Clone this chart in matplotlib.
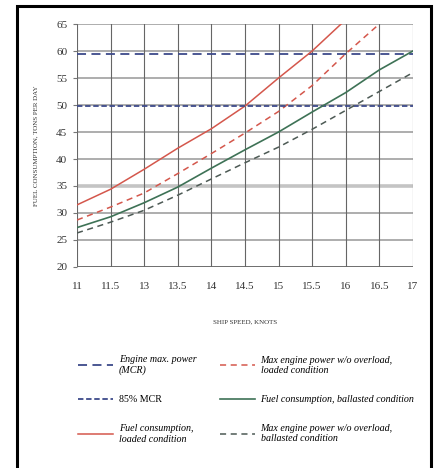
import matplotlib.pyplot as plt
from matplotlib.patches import Rectangle

# speed labels as printed on the chart (one per grid line)
speed_labels = ['11', '11.5', '13', '13.5', '14', '14.5', '15', '15.5', '16', '16.5', '17']
y_ticks = [20, 25, 30, 35, 40, 45, 50, 55, 60, 65]

mcr = 59.4
mcr_85 = 49.8

fuel_loaded = [31.5, 34.4, 38.1, 42.0, 45.6, 49.8, 55.0, 60.0, 65.8]
max_loaded = [28.7, 31.1, 33.7, 37.3, 41.0, 44.8, 48.8, 53.6, 59.5, 65.0]
fuel_ballast = [27.3, 29.3, 31.9, 34.8, 38.3, 41.7, 45.0, 48.7, 52.3, 56.5, 60.0]
max_ballast = [26.3, 28.3, 30.5, 33.3, 36.3, 39.3, 42.2, 45.5, 49.0, 52.5, 56.0]

plt.rcParams['font.family'] = ['Liberation Serif', 'DejaVu Serif']

fig = plt.figure(figsize=(4.36, 4.68), dpi=100)
fig.patch.set_facecolor('white')
ax = fig.add_axes([0.1766, 0.4295, 0.7704, 0.5192])

# outer black frame (runs past the bottom edge)
fig.patches.append(Rectangle((17 / 436, -0.05), (431 - 17) / 436, 1 - 6 / 468 + 0.05,
                             transform=fig.transFigure, fill=False, ec='black', lw=2.2))

n = len(speed_labels)
xs = list(range(n))

# grid
for y in y_ticks:
    if y == 35:
        ax.axhline(y, color='#c4c4c4', lw=2.6, zorder=1)
    elif y == 20:
        ax.axhline(y, color='#555555', lw=1.2, zorder=1)
    else:
        ax.axhline(y, color='#a0a0a0', lw=1.2, zorder=1)
for x in xs:
    ax.axvline(x, color='#666666', lw=0.8, zorder=1)

navy = '#3d4a8a'
red = '#d4574c'
green = '#3e7256'
grey = '#4d5a55'

ax.axhline(mcr, color=navy, lw=1.3, dashes=(5, 3), zorder=3, label='Engine max. power\n(MCR)')
ax.plot(xs[:len(fuel_loaded)], fuel_loaded, color=red, lw=1.1, zorder=3,
        label='Fuel consumption,\nloaded condition')
ax.plot(xs[:len(max_loaded)], max_loaded, color=red, lw=1.1, dashes=(4, 3), zorder=3,
        label='Max engine power w/o overload,\nloaded condition')
ax.axhline(mcr_85, color=navy, lw=1.3, dashes=(3, 1.5), zorder=3, label='85% MCR')
ax.plot(xs, fuel_ballast, color=green, lw=1.2, zorder=3,
        label='Fuel consumption, ballasted condition')
ax.plot(xs, max_ballast, color=grey, lw=1.1, dashes=(4, 3), zorder=3,
        label='Max engine power w/o overload,\nballasted condition')

ax.set_xlim(0, n - 1)
ax.set_ylim(20, 65)
ax.set_xticks(xs)
ax.set_xticklabels(speed_labels, fontsize=8, color='#333333')
ax.set_yticks(y_ticks)
ax.set_yticklabels([str(v) for v in y_ticks], fontsize=8, color='#333333')
ax.tick_params(axis='both', length=3, color='#777777', pad=4)
ax.tick_params(axis='x', length=0, pad=11)
for s in ax.spines.values():
    s.set_visible(False)

ax.set_xlabel('SHIP SPEED, KNOTS', fontsize=5, color='#333333', labelpad=20)
ax.set_ylabel('FUEL CONSUMPTION, TONS PER DAY', fontsize=5, color='#333333', labelpad=13)

h, l = ax.get_legend_handles_labels()
order = [0, 3, 1, 2, 4, 5]
leg = fig.legend([h[i] for i in order], [l[i] for i in order], ncol=2,
                 loc='upper left', bbox_to_anchor=(0.158, 0.26), frameon=False,
                 handlelength=3.5, handletextpad=0.6, columnspacing=2.3,
                 labelspacing=2.0, prop={'style': 'italic', 'size': 7.2})
for t in leg.get_texts():
    if t.get_text() == '85% MCR':
        t.set_fontstyle('normal')

fig.savefig('out.png', dpi=100)
